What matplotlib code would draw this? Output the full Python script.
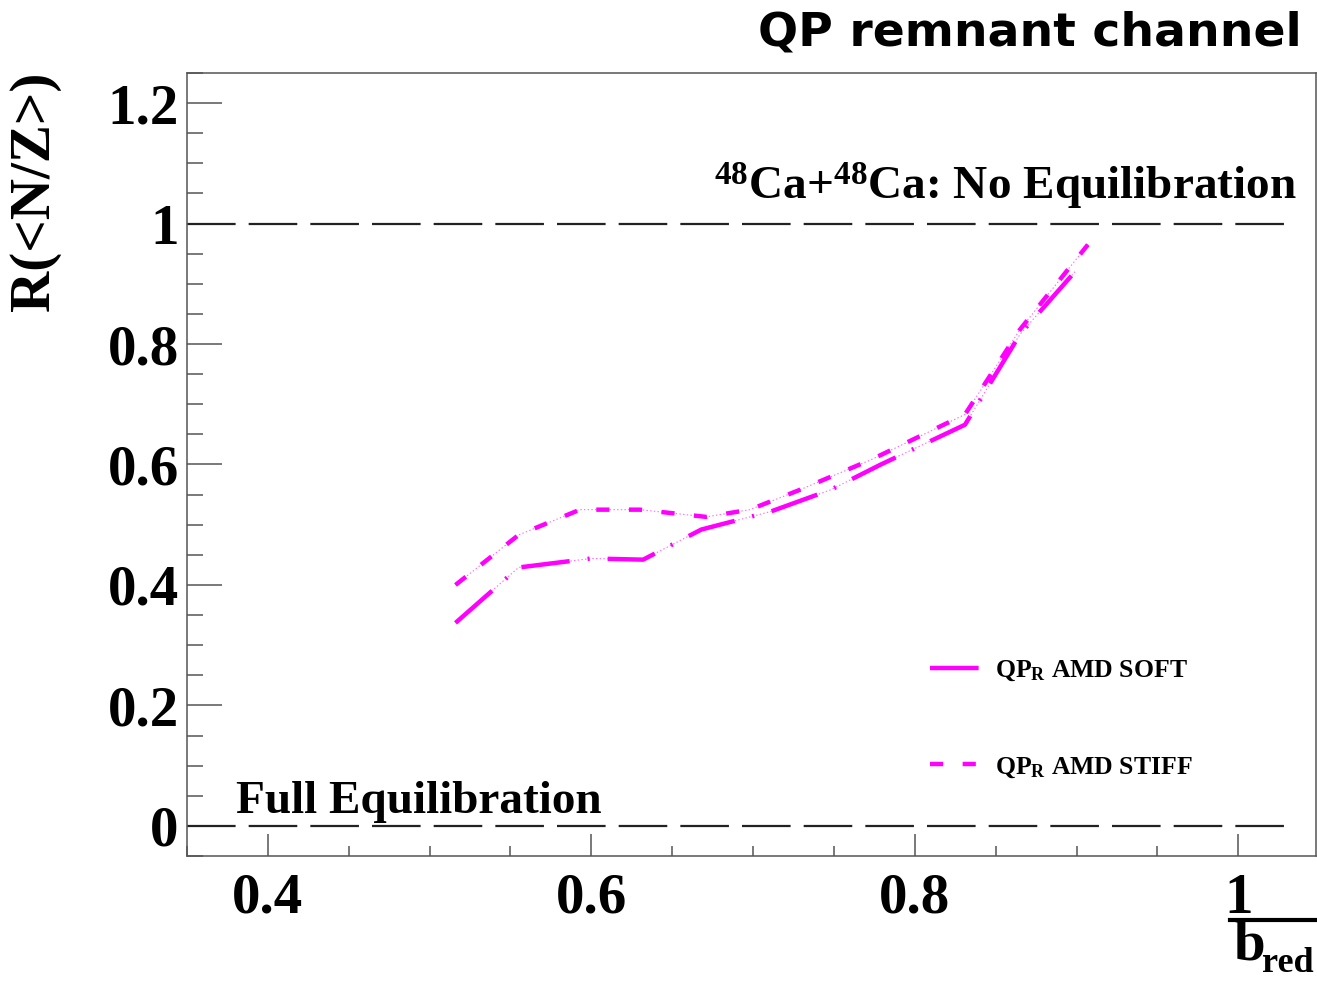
import numpy as np
import matplotlib
matplotlib.use('Agg')
import matplotlib.pyplot as plt
from matplotlib.ticker import MultipleLocator, FormatStrFormatter
from matplotlib.lines import Line2D

plt.rcParams['font.family'] = ['Liberation Serif', 'DejaVu Serif']
plt.rcParams['font.weight'] = 'bold'
plt.rcParams['mathtext.fontset'] = 'custom'
plt.rcParams['mathtext.rm'] = 'Liberation Serif:bold'
plt.rcParams['mathtext.bf'] = 'Liberation Serif:bold'
plt.rcParams['mathtext.it'] = 'Liberation Serif:bold'
plt.rcParams['lines.scale_dashes'] = False

# values (1/b_red, R(<N/Z>))
soft_x = [0.516, 0.555, 0.600, 0.632, 0.668, 0.711, 0.748, 0.779, 0.831, 0.865, 0.899]
soft_y = [0.337, 0.429, 0.444, 0.442, 0.492, 0.522, 0.558, 0.600, 0.666, 0.816, 0.920]

stiff_x = [0.516, 0.555, 0.593, 0.630, 0.671, 0.698, 0.729, 0.773, 0.831, 0.865, 0.907]
stiff_y = [0.400, 0.483, 0.525, 0.525, 0.513, 0.525, 0.558, 0.608, 0.683, 0.824, 0.965]

ref_x = [0.35, 1.028]
no_eq_level = 1.0
full_eq_level = 0.0

magenta = '#ff00ff'

fig = plt.figure(figsize=(13.17, 9.82), dpi=100)
ax = fig.add_axes([0.142, 0.1283, 0.8572, 0.7974])

# reference levels
ax.plot(ref_x, [no_eq_level, no_eq_level], color='#222222', lw=1.6,
        linestyle=(0, (35, 9.4)))
ax.plot(ref_x, [full_eq_level, full_eq_level], color='#222222', lw=1.6,
        linestyle=(0, (35, 9.4)))

# thin dotted underlay, like in the original
ax.plot(soft_x, soft_y, color=magenta, lw=0.8, linestyle=':', alpha=0.6)
ax.plot(stiff_x, stiff_y, color=magenta, lw=0.8, linestyle=':', alpha=0.6)

soft_line, = ax.plot(soft_x, soft_y, color=magenta, lw=3.2,
                     linestyle=(0, (35, 13, 1.5, 13)), solid_capstyle='butt',
                     dash_capstyle='butt')
stiff_line, = ax.plot(stiff_x, stiff_y, color=magenta, lw=3.2,
                      linestyle=(0, (9.5, 14)), dash_capstyle='butt')

ax.set_xlim(0.35, 1.048)
ax.set_ylim(-0.05, 1.25)

ax.xaxis.set_major_locator(MultipleLocator(0.2))
ax.xaxis.set_minor_locator(MultipleLocator(0.05))
ax.yaxis.set_major_locator(MultipleLocator(0.2))
ax.yaxis.set_minor_locator(MultipleLocator(0.05))
ax.xaxis.set_major_formatter(FormatStrFormatter('%g'))
ax.yaxis.set_major_formatter(FormatStrFormatter('%g'))

for s in ax.spines.values():
    s.set_color('#555555')
    s.set_linewidth(1.1)

ax.tick_params(axis='both', which='both', direction='in', colors='#555555',
               labelcolor='black', width=1.1, top=False, right=False)
ax.tick_params(axis='y', which='major', length=25, pad=6, labelsize=41)
ax.tick_params(axis='y', which='minor', length=11.5)
ax.tick_params(axis='x', which='major', length=16, pad=12, labelsize=41)
ax.tick_params(axis='x', which='minor', length=7)

ax.text(1.036, 1.04, r'$^{48}$Ca+$^{48}$Ca: No Equilibration', ha='right',
        va='baseline', fontsize=34, fontweight='bold')
ax.text(0.380, 0.022, 'Full Equilibration', ha='left', va='baseline',
        fontsize=34, fontweight='bold')

ax.legend([soft_line, stiff_line],
          [r'QP$_{\mathrm{R}}$ AMD SOFT', r'QP$_{\mathrm{R}}$ AMD STIFF'],
          loc='upper left', bbox_to_anchor=(0.649, 0.265), frameon=False,
          fontsize=18.5, handlelength=2.1, handletextpad=0.45, labelspacing=2.8,
          borderaxespad=0)

# y title
fig.text(35 / 1317, 1 - 191 / 982, 'R(<N/Z>)', rotation=90, ha='center',
         va='center', fontsize=41, fontweight='bold')

# x title: fraction 1 over b_red (the "1" is the tick label at 1)
fig.add_artist(Line2D([1230 / 1317, 1.0], [1 - 920 / 982, 1 - 920 / 982],
                      color='black', lw=3))
fig.text(1233 / 1317, 1 - 960 / 982, 'b', ha='left',
         va='baseline', fontsize=41, fontweight='bold')
fig.text(1314 / 1317, 1 - 972 / 982, 'red', ha='right',
         va='baseline', fontsize=26, fontweight='bold')

# header
fig.text(1302 / 1317, 1 - 46 / 982, 'QP remnant channel', ha='right',
         va='baseline', fontsize=34, fontweight='bold', family='DejaVu Sans')

fig.savefig('out.png', dpi=100)
